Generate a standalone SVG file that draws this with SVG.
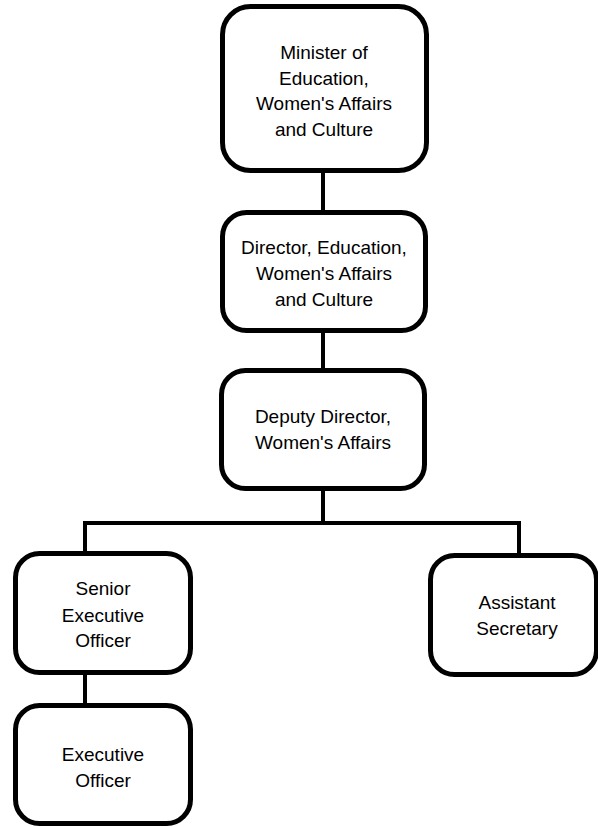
<svg xmlns="http://www.w3.org/2000/svg" width="598" height="827" viewBox="0 0 598 827">
<style>
.box{fill:#fff;stroke:#000;stroke-width:5}
.lbl{font-family:"Liberation Sans",Arial,sans-serif;font-size:19px;fill:#000;text-anchor:middle}
.conn{fill:none;stroke:#000;stroke-width:4}
</style>
<rect width="598" height="827" fill="#fff"/>
<g id="connectors">
<line class="conn" x1="323" y1="173" x2="323" y2="210"/>
<line class="conn" x1="323" y1="333" x2="323" y2="368"/>
<polyline class="conn" points="323,491 323,523"/>
<polyline class="conn" points="85,553 85,523 519,523 519,555"/>
<line class="conn" x1="85" y1="675" x2="85" y2="703"/>
</g>
<g id="minister">
<rect class="box" x="222.5" y="6.5" width="204" height="164" rx="28"/>
<text class="lbl" x="324" y="59">Minister of</text>
<text class="lbl" x="324" y="85">Education,</text>
<text class="lbl" x="324" y="110">Women's Affairs</text>
<text class="lbl" x="324" y="136">and Culture</text>
</g>
<g id="director">
<rect class="box" x="222.5" y="212.5" width="203" height="118" rx="24"/>
<text class="lbl" x="324" y="254">Director, Education,</text>
<text class="lbl" x="324" y="280">Women's Affairs</text>
<text class="lbl" x="324" y="306">and Culture</text>
</g>
<g id="deputy">
<rect class="box" x="221.5" y="370.5" width="203" height="118" rx="24"/>
<text class="lbl" x="323" y="423">Deputy Director,</text>
<text class="lbl" x="323" y="449">Women's Affairs</text>
</g>
<g id="senior">
<rect class="box" x="15.5" y="553.5" width="175" height="119" rx="24"/>
<text class="lbl" x="103" y="595">Senior</text>
<text class="lbl" x="103" y="622">Executive</text>
<text class="lbl" x="103" y="647">Officer</text>
</g>
<g id="assistant">
<rect class="box" x="430.5" y="555.5" width="166" height="119" rx="24"/>
<text class="lbl" x="517" y="609">Assistant</text>
<text class="lbl" x="517" y="635">Secretary</text>
</g>
<g id="executive">
<rect class="box" x="15.5" y="705.5" width="175" height="118" rx="24"/>
<text class="lbl" x="103" y="761">Executive</text>
<text class="lbl" x="103" y="787">Officer</text>
</g>
</svg>
